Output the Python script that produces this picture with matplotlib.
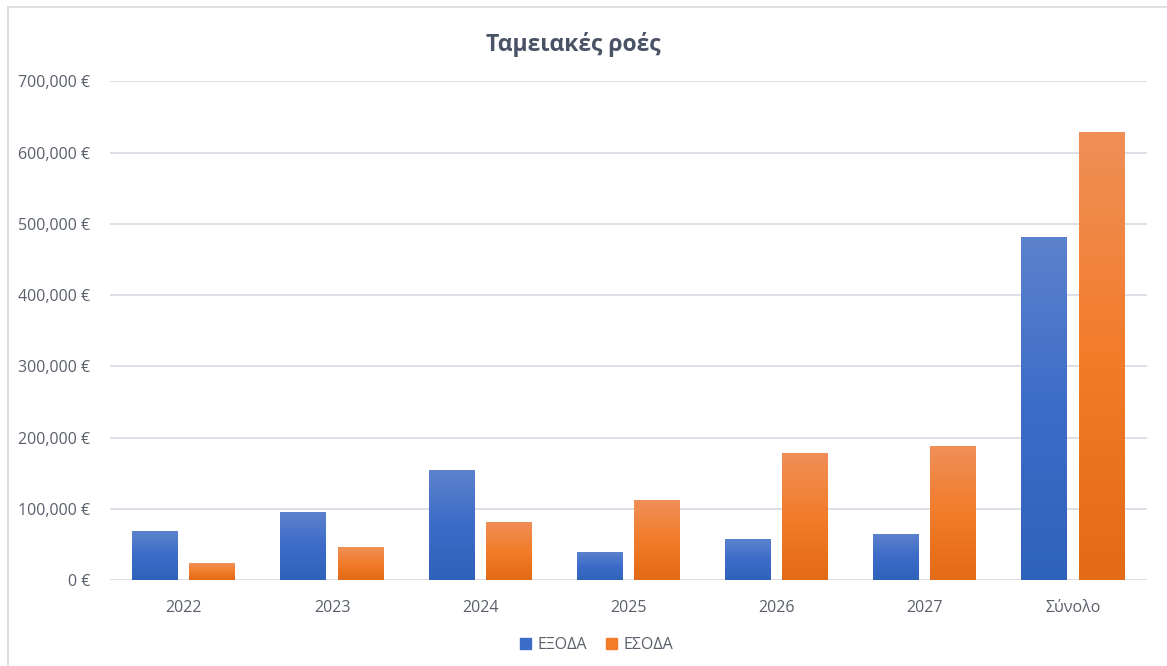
import matplotlib.pyplot as plt
import numpy as np
from matplotlib.colors import LinearSegmentedColormap
from matplotlib.patches import Patch
from matplotlib.lines import Line2D
from matplotlib.ticker import FuncFormatter

plt.rcParams['font.family'] = ['Open Sans', 'DejaVu Sans']

categories = ['2022', '2023', '2024', '2025', '2026', '2027', 'Σύνολο']
exoda = [68000, 95000, 154000, 39000, 57500, 64500, 481000]
esoda = [22500, 46000, 80000, 112000, 178000, 188000, 628000]
series_names = ['ΕΞΟΔΑ', 'ΕΣΟΔΑ']

text_col = '#595F6B'
blue_cmap = LinearSegmentedColormap.from_list('b', ['#2F62BA', '#3C6CC8', '#5C82CC'])
orange_cmap = LinearSegmentedColormap.from_list('o', ['#E36A16', '#F27C2A', '#F08F58'])

fig = plt.figure(figsize=(11.67, 6.66), dpi=100)
ax = fig.add_axes([0.094, 0.129, 0.889, 0.749])

x = np.arange(len(categories))
w = 0.31
off = 0.193
grad = np.linspace(0, 1, 256).reshape(-1, 1)

def gradient_bars(rects, cmap):
    for r in rects:
        x0 = r.get_x()
        h = r.get_height()
        ax.imshow(grad, extent=[x0, x0 + r.get_width(), 0, h], origin='lower',
                  aspect='auto', cmap=cmap, zorder=3)
        r.set_visible(False)

b1 = ax.bar(x - off, exoda, width=w)
b2 = ax.bar(x + off, esoda, width=w)
gradient_bars(b1, blue_cmap)
gradient_bars(b2, orange_cmap)

ax.set_xlim(-0.5, len(categories) - 0.5)
ax.set_ylim(0, 700000)
ax.set_yticks(np.arange(0, 700001, 100000))
ax.yaxis.set_major_formatter(FuncFormatter(lambda v, p: '{:,.0f} €'.format(v)))
ax.set_xticks(x)
ax.set_xticklabels(categories)
ax.tick_params(axis='both', length=0, colors=text_col, labelsize=11.5)
ax.tick_params(axis='x', pad=14)
ax.tick_params(axis='y', pad=14)
ax.grid(axis='y', color='#D9DDE4', linewidth=1.3, zorder=0)
ax.set_axisbelow(True)
for s in ax.spines.values():
    s.set_visible(False)

fig.text(0.491, 0.933, 'Ταμειακές ροές', ha='center', va='center',
         fontsize=16.5, fontweight='bold', color='#4A5366')

handles = [Patch(color='#3C6CC8'), Patch(color='#F27C2A')]
fig.legend(handles, series_names, loc='center', bbox_to_anchor=(0.511, 0.032),
           ncol=2, frameon=False, fontsize=11.5, labelcolor=text_col,
           handlelength=0.7, handleheight=0.7, handletextpad=0.4, columnspacing=1.2)

# chart frame
fig.add_artist(Line2D([8 / 1167, 8 / 1167], [0, 1 - 7 / 666], color='#D9D9D9', lw=1.2))
fig.add_artist(Line2D([8 / 1167, 1], [1 - 7 / 666, 1 - 7 / 666], color='#D9D9D9', lw=1.2))

fig.savefig('out.png', dpi=100)
